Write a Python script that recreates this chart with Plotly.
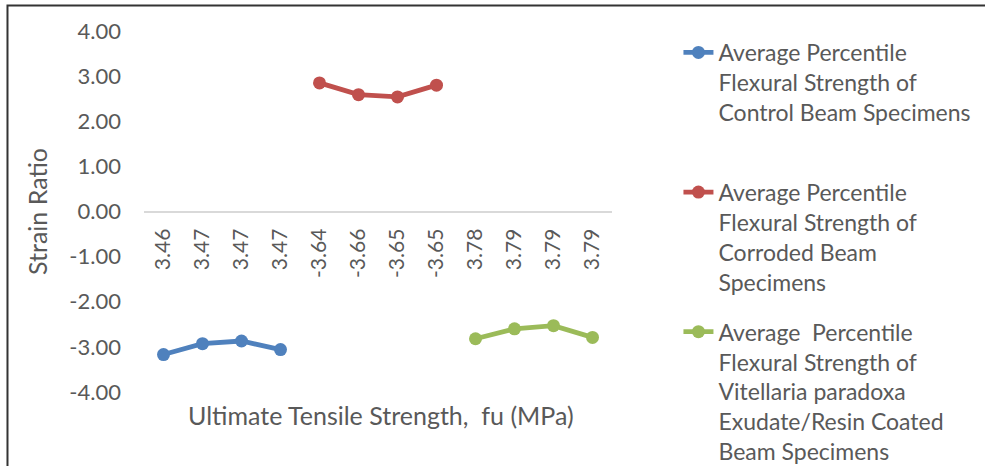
import plotly.graph_objects as go

tick_labels = ["3.46", "3.47", "3.47", "3.47", "-3.64", "-3.66", "-3.65", "-3.65",
               "3.78", "3.79", "3.79", "3.79"]
y_tick_vals = [-4, -3, -2, -1, 0, 1, 2, 3, 4]
y_tick_text = ["-4.00", "-3.00", "-2.00", "-1.00", "0.00", "1.00", "2.00", "3.00", "4.00"]
control_x = [0, 1, 2, 3]
control_y = [-3.17, -2.93, -2.87, -3.06]
corroded_x = [4, 5, 6, 7]
corroded_y = [2.85, 2.59, 2.54, 2.80]
coated_x = [8, 9, 10, 11]
coated_y = [-2.82, -2.60, -2.53, -2.79]

names = [
    "Average Percentile<br>Flexural Strength of<br>Control Beam Specimens<br> ",
    "Average Percentile<br>Flexural Strength of<br>Corroded Beam<br>Specimens",
    "Average\u00a0 Percentile<br>Flexural Strength of<br>Vitellaria paradoxa<br>Exudate/Resin Coated<br>Beam Specimens",
]
colors = ["#4F81BD", "#C0504D", "#9BBB59"]
FONT = "Lato"
TXT = "#595959"

fig = go.Figure()
for i, (xs, ys) in enumerate([(control_x, control_y), (corroded_x, corroded_y), (coated_x, coated_y)]):
    fig.add_trace(go.Scatter(
        x=xs, y=ys, mode="lines+markers", name=names[i], legendgroup=f"g{i}",
        line=dict(color=colors[i], width=4.8),
        marker=dict(color=colors[i], size=13),
    ))

fig.update_layout(
    width=985, height=466,
    margin=dict(l=144, r=373, t=31, b=74, autoexpand=False),
    paper_bgcolor="white", plot_bgcolor="white",
    font=dict(family=FONT, color=TXT, size=21),
    showlegend=True,
    legend=dict(x=1.142, y=1.0, xanchor="left", yanchor="top",
                font=dict(size=23, color=TXT, family=FONT), maxheight=700,
                valign="top", tracegroupgap=17, bgcolor="rgba(0,0,0,0)"),
    xaxis=dict(range=[-0.5, 11.5], tickmode="array",
               tickvals=list(range(len(tick_labels))), ticktext=tick_labels,
               tickangle=-90, anchor="free", position=0.5, automargin=False,
               showline=True, linecolor="#D9D9D9", linewidth=1.5,
               showgrid=False, zeroline=False, ticks="",
               ticklabelstandoff=8,
               tickfont=dict(size=21, color=TXT, family=FONT)),
    yaxis=dict(range=[-4, 4], tickmode="array", tickvals=y_tick_vals, ticktext=y_tick_text,
               showgrid=False, automargin=False,
               zeroline=False, showline=False, ticks="",
               ticklabelstandoff=22,
               tickfont=dict(size=22, color=TXT, family=FONT),
               title=dict(text="Strain Ratio", standoff=14,
                          font=dict(size=25, color=TXT, family=FONT))),
    annotations=[dict(text="Ultimate Tensile Strength,\u00a0 fu (MPa)",
                      x=0.506, y=-0.064, xref="paper", yref="paper",
                      showarrow=False, xanchor="center", yanchor="middle",
                      font=dict(size=25, color=TXT, family=FONT))],
    shapes=[dict(type="rect", xref="paper", yref="paper",
                 x0=-0.2917, x1=2.0, y0=-1.0, y1=1.0706,
                 line=dict(color="#333333", width=2), fillcolor="rgba(0,0,0,0)")],
)

fig.write_html("out.html", config={"displayModeBar": False},
               post_script="document.body.style.margin='0';")
